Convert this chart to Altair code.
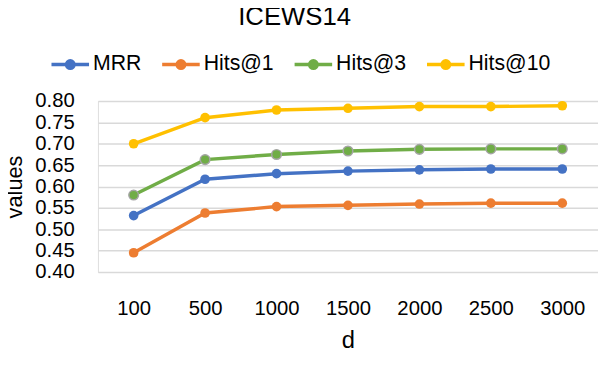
import altair as alt
import pandas as pd

chart_title = "ICEWS14"
d_values = ["100", "500", "1000", "1500", "2000", "2500", "3000"]
series_names = ["MRR", "Hits@1", "Hits@3", "Hits@10"]
mrr = [0.532, 0.617, 0.630, 0.636, 0.639, 0.641, 0.641]
hits1 = [0.445, 0.538, 0.553, 0.556, 0.559, 0.561, 0.561]
hits3 = [0.580, 0.663, 0.675, 0.683, 0.687, 0.688, 0.688]
hits10 = [0.700, 0.761, 0.779, 0.783, 0.787, 0.787, 0.789]
colors = ["#4472C4", "#ED7D31", "#70AD47", "#FFC000"]
y_ticks = [0.40, 0.45, 0.50, 0.55, 0.60, 0.65, 0.70, 0.75, 0.80]

rows = []
for name, vals in zip(series_names, [mrr, hits1, hits3, hits10]):
    for d, v in zip(d_values, vals):
        rows.append({"d": d, "series": name, "value": v})
df = pd.DataFrame(rows)

FONT = "Liberation Sans"

legend_path = (
    "M-1,0L1,0"
    "M-0.2,0A0.2,0.2,0,1,0,0.2,0A0.2,0.2,0,1,0,-0.2,0"
    "M-0.1,0A0.1,0.1,0,1,0,0.1,0A0.1,0.1,0,1,0,-0.1,0"
    "M-0.03,0A0.03,0.03,0,1,0,0.03,0A0.03,0.03,0,1,0,-0.03,0"
)

x_enc = alt.X(
    "d:O", sort=d_values, title="d",
    axis=alt.Axis(labelAngle=0, ticks=False, domain=False, grid=False,
                  labelFontSize=20.5, labelFont=FONT, labelColor="#000000",
                  labelPadding=27, titleFontSize=24, titleFont=FONT,
                  titleFontWeight="normal", titleColor="#000000", titlePadding=10),
)
y_enc = alt.Y(
    "value:Q", title="values",
    scale=alt.Scale(domain=[0.40, 0.80], nice=False, zero=False),
    axis=alt.Axis(values=y_ticks, format=".2f", ticks=False, domain=False,
                  grid=True, gridColor="#D9D9D9", gridWidth=1.3,
                  labelFontSize=20.5, labelFont=FONT, labelColor="#000000",
                  labelPadding=24, titleFontSize=22, titleFont=FONT,
                  titleFontWeight="normal", titleColor="#000000",
                  titleX=-77, titleY=86.5, titleBaseline="alphabetic"),
)

color_scale = alt.Scale(domain=series_names, range=colors)

lines = alt.Chart(df).mark_line(strokeWidth=3.5).encode(
    x=x_enc, y=y_enc,
    color=alt.Color(
        "series:N", scale=color_scale, sort=series_names,
        legend=alt.Legend(
            title=None, orient="none", direction="horizontal", columns=4,
            legendX=-49, legendY=-58, padding=0,
            symbolType=legend_path, symbolSize=1444, symbolStrokeWidth=3.5,
            labelFont=FONT, labelFontSize=21.5, labelColor="#000000",
            labelOffset=2, columnPadding=14,
        ),
    ),
)

points = alt.Chart(df).mark_circle(size=95, opacity=1).encode(
    x=x_enc, y=y_enc,
    fill=alt.Fill("series:N", scale=color_scale, legend=None),
)

points3 = alt.Chart(df).transform_filter(alt.datum.series == "Hits@3").mark_circle(
    size=95, opacity=1, fill="#70AD47", stroke="#A5A5A5", strokeWidth=1.5
).encode(x=x_enc, y=y_enc)

title_layer = alt.Chart(pd.DataFrame({"t": [chart_title]})).mark_text(
    font=FONT, fontSize=26, color="#000000", align="center", baseline="alphabetic"
).encode(text="t:N", x=alt.value(199), y=alt.value(-77))

chart = alt.layer(lines, points, points3, title_layer).properties(
    width=506, height=173,
    autosize=alt.AutoSizeParams(type="none"),
    padding={"left": 91, "top": 92, "right": 0, "bottom": 93},
).configure_view(stroke=None).configure(background="white")

chart.save("out.html", embed_options={"renderer": "svg", "actions": False})
